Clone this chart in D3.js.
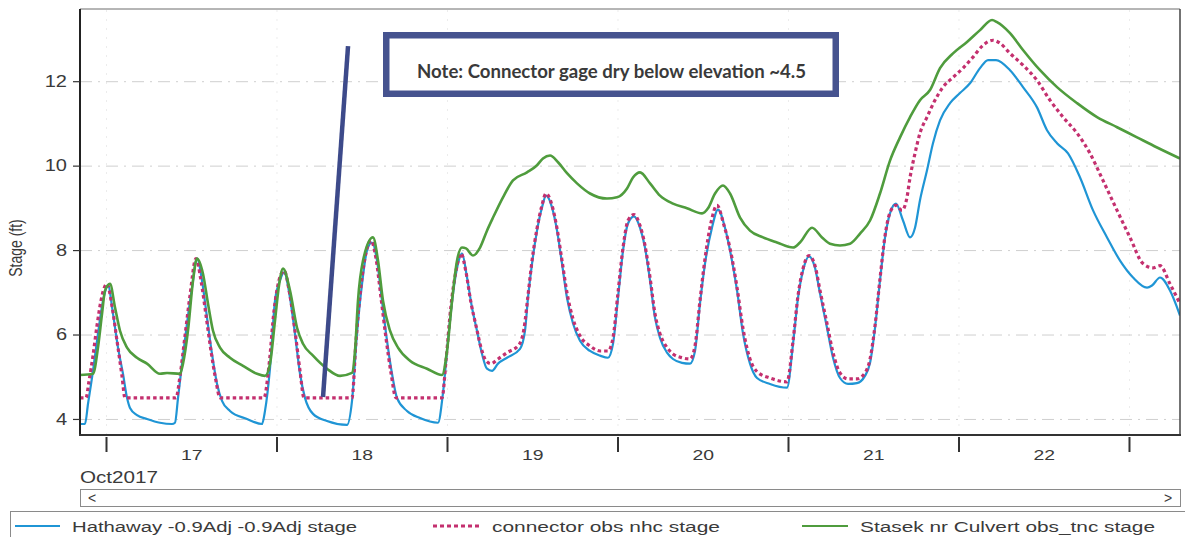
<!DOCTYPE html>
<html>
<head>
<meta charset="utf-8">
<script src="https://cdn.jsdelivr.net/npm/d3@7"></script>
<style>
  html, body { margin: 0; padding: 0; background: #fff; }
  svg { display: block; }
  text { font-family: "Liberation Sans", Arial, sans-serif; fill: #3a3a3a; }
</style>
</head>
<body>
<svg id="chart" width="1185" height="537"></svg>
<script>
// Stage readings, [hours after 17 Oct 2017 00:00, stage in ft]
const hathaway = [
  [-3.66,3.88],[-2.96,3.88],[-2.53,4.36],[-1.83,5.14],[-1.13,6.02],[-0.42,6.80],[0.28,7.16],[0.99,6.49],
  [1.69,5.69],[2.39,5.07],[2.96,4.50],[3.38,4.26],[4.36,4.09],[5.77,4.00],[7.60,3.91],[9.29,3.88],
  [9.71,3.91],[10.14,4.50],[10.70,5.31],[11.40,6.26],[12.11,7.11],[12.81,7.80],[13.51,7.28],[14.22,6.40],
  [14.92,5.54],[15.63,4.83],[16.33,4.43],[17.45,4.19],[19.85,4.00],[21.96,3.88],[22.38,4.19],[23.09,5.21],
  [23.79,6.80],[24.49,7.28],[25.06,7.47],[25.90,6.87],[26.60,6.02],[27.31,5.07],[28.01,4.50],[29.14,4.12],
  [31.11,3.95],[33.92,3.86],[34.63,4.43],[35.33,6.02],[36.04,7.20],[36.74,7.99],[37.44,8.18],[38.15,7.75],
  [38.85,6.80],[39.56,5.85],[40.26,5.07],[40.96,4.50],[42.37,4.19],[44.20,4.02],[46.73,3.91],[47.44,4.62],
  [48.14,5.85],[48.85,6.97],[49.55,7.68],[50.11,7.92],[50.82,7.35],[51.52,6.64],[52.22,6.09],[52.93,5.54],
  [53.63,5.19],[54.34,5.14],[55.18,5.31],[56.45,5.45],[58.28,5.66],[58.98,6.09],[59.40,6.87],[59.97,7.68],
  [60.67,8.46],[61.37,9.01],[61.94,9.29],[62.78,9.01],[63.49,8.46],[64.19,7.68],[64.89,6.87],[65.74,6.26],
  [66.72,5.85],[68.13,5.61],[69.54,5.50],[70.66,5.45],[71.37,5.78],[72.07,6.87],[72.78,7.99],[73.48,8.63],
  [74.32,8.80],[75.17,8.53],[75.87,8.06],[76.58,7.28],[77.28,6.40],[77.98,5.92],[78.97,5.57],[79.81,5.42],
  [81.08,5.33],[82.21,5.31],[82.91,5.61],[83.61,6.73],[84.32,7.68],[85.30,8.53],[86.15,8.96],[87.13,8.53],
  [87.84,7.99],[88.83,7.04],[89.67,6.02],[90.65,5.31],[91.64,4.97],[93.47,4.83],[95.86,4.74],[96.71,5.78],
  [97.41,6.87],[98.11,7.51],[98.96,7.85],[99.80,7.58],[100.51,6.97],[101.49,6.16],[102.34,5.45],[103.32,4.97],
  [104.45,4.83],[105.71,4.85],[106.84,5.02],[107.55,5.33],[108.25,6.16],[108.95,7.28],[109.66,8.30],[110.36,8.87],
  [111.20,9.10],[112.19,8.70],[113.18,8.30],[113.88,8.53],[114.58,9.18],[115.57,9.89],[116.41,10.53],[117.40,11.07],
  [118.81,11.48],[120.21,11.72],[121.62,11.95],[123.03,12.31],[124.16,12.50],[125.28,12.50],[127.25,12.26],[129.08,11.86],
  [131.05,11.38],[132.46,10.84],[133.87,10.53],[135.42,10.29],[137.11,9.72],[138.94,8.94],[140.91,8.30],[142.74,7.75],
  [144.57,7.35],[146.54,7.11],[147.24,7.16],[148.37,7.35],[149.77,7.04],[151.18,6.45]
];

const connector = [
  [-3.66,4.50],[-2.82,4.50],[-2.39,4.90],[-1.83,5.50],[-1.27,6.21],[-0.56,6.92],[0.14,7.20],[0.84,6.68],
  [1.55,5.85],[2.25,5.02],[2.67,4.50],[9.85,4.50],[10.42,5.02],[11.12,5.97],[11.82,6.92],[12.67,7.80],
  [13.37,7.28],[14.08,6.45],[14.78,5.61],[15.48,4.90],[16.05,4.50],[22.24,4.50],[22.94,5.26],[23.65,6.56],
  [24.35,7.28],[25.06,7.51],[25.90,6.92],[26.60,6.09],[27.31,5.14],[27.87,4.50],[34.63,4.50],[35.19,5.85],
  [35.90,7.16],[36.60,7.94],[37.30,8.23],[38.01,7.80],[38.71,6.87],[39.41,5.92],[40.12,5.09],[40.82,4.50],
  [47.30,4.50],[47.86,5.38],[48.56,6.68],[49.27,7.51],[49.97,7.92],[50.68,7.47],[51.38,6.75],[52.08,6.21],
  [52.79,5.69],[53.49,5.38],[54.19,5.31],[55.18,5.42],[56.45,5.57],[58.14,5.76],[58.84,6.14],[59.40,6.92],
  [59.97,7.75],[60.67,8.51],[61.37,9.06],[61.94,9.34],[62.78,9.06],[63.49,8.51],[64.19,7.75],[64.89,6.99],
  [65.74,6.37],[66.72,5.97],[68.13,5.73],[69.54,5.61],[70.66,5.61],[71.37,5.92],[72.07,6.99],[72.78,8.06],
  [73.48,8.70],[74.32,8.84],[75.17,8.58],[75.87,8.11],[76.58,7.35],[77.28,6.49],[77.98,6.02],[78.97,5.69],
  [79.81,5.54],[81.08,5.45],[82.21,5.42],[82.91,5.73],[83.61,6.80],[84.32,7.80],[85.16,8.65],[86.01,9.06],
  [87.00,8.58],[87.84,8.04],[88.83,7.11],[89.67,6.14],[90.65,5.42],[91.64,5.12],[93.47,4.97],[95.86,4.88],
  [96.71,5.85],[97.41,6.92],[98.11,7.56],[98.96,7.87],[99.80,7.63],[100.51,7.04],[101.49,6.26],[102.34,5.57],
  [103.32,5.09],[104.45,4.95],[105.71,4.95],[106.84,5.09],[107.55,5.42],[108.25,6.21],[108.95,7.32],[109.66,8.34],
  [110.36,8.89],[111.20,9.06],[112.05,8.94],[112.75,9.25],[113.18,9.72],[113.88,10.29],[114.58,10.77],[115.57,11.15],
  [116.69,11.55],[117.82,11.86],[119.23,12.09],[120.64,12.31],[122.04,12.57],[123.45,12.85],[124.86,12.97],[125.84,12.90],
  [127.25,12.66],[129.08,12.38],[131.05,12.02],[132.88,11.55],[134.71,11.15],[136.69,10.77],[138.51,10.29],[140.34,9.65],
  [142.32,8.94],[144.14,8.30],[145.97,7.68],[147.38,7.58],[148.37,7.63],[149.77,7.20],[151.18,6.73]
];

const stasek = [
  [-3.66,5.04],[-1.83,5.07],[-1.13,5.69],[-0.56,6.49],[-0.14,7.04],[0.56,7.20],[1.27,6.64],[1.97,6.09],
  [2.96,5.69],[4.36,5.45],[5.77,5.31],[7.60,5.07],[8.59,5.09],[10.42,5.07],[10.84,5.31],[11.54,6.09],
  [12.25,7.28],[12.81,7.80],[13.65,7.44],[14.36,6.73],[15.06,6.09],[16.05,5.69],[17.45,5.45],[19.29,5.26],
  [21.26,5.07],[22.38,5.02],[23.09,5.31],[23.79,6.33],[24.35,7.16],[24.92,7.56],[25.90,7.04],[26.89,6.16],
  [27.73,5.78],[29.14,5.50],[31.11,5.19],[32.94,5.02],[34.63,5.09],[35.05,5.61],[35.47,6.80],[36.18,7.75],
  [37.58,8.30],[38.29,7.75],[38.99,6.80],[39.98,6.09],[41.10,5.69],[42.79,5.38],[45.19,5.19],[47.30,5.04],
  [48.00,5.61],[48.71,6.80],[49.41,7.75],[50.11,8.06],[50.68,8.04],[51.66,7.87],[52.65,8.06],[53.63,8.46],
  [54.48,8.77],[55.88,9.25],[57.29,9.65],[59.26,9.84],[60.67,10.01],[61.51,10.17],[62.50,10.24],[63.63,10.08],
  [64.89,9.82],[66.30,9.58],[68.13,9.34],[70.52,9.22],[71.93,9.25],[73.34,9.46],[74.18,9.72],[75.17,9.84],
  [76.58,9.58],[77.98,9.29],[79.81,9.10],[81.78,8.99],[83.90,8.87],[84.74,8.99],[85.73,9.34],[86.85,9.53],
  [87.84,9.34],[89.25,8.77],[90.65,8.46],[92.48,8.30],[94.45,8.18],[96.71,8.06],[97.69,8.18],[99.38,8.53],
  [100.79,8.30],[101.91,8.15],[103.32,8.11],[104.73,8.15],[106.14,8.39],[107.55,8.70],[108.95,9.34],[110.36,10.12],
  [111.77,10.67],[113.18,11.15],[114.58,11.55],[115.99,11.79],[117.40,12.31],[119.23,12.66],[121.20,12.93],[123.03,13.21],
  [124.72,13.45],[125.42,13.40],[127.25,13.14],[129.08,12.74],[131.48,12.26],[133.87,11.86],[136.69,11.48],[139.50,11.15],
  [142.32,10.91],[145.13,10.67],[147.95,10.43],[151.18,10.17]
];

const seriesNames = [
  "Hathaway -0.9Adj -0.9Adj stage",
  "connector obs nhc stage",
  "Stasek nr Culvert obs_tnc stage"
];
const stageTicks = [4, 6, 8, 10, 12];
const dayBoundaries = [17, 18, 19, 20, 21, 22, 23];
const dayLabels = [17, 18, 19, 20, 21, 22];
const monthLabel = "Oct2017";
const noteText = "Note: Connector gage dry below elevation ~4.5";
// Pointer from the note down to the dry threshold, [hours, stage]
const notePointer = [[34.07, 12.83], [30.55, 4.52]];
const viewHours = [-3.66, 151.18];
const stageDomain = [3.62, 13.71];

// ---- layout ----
const SX = 1.25;                       // horizontal stretch of the lettering
const plot = { left: 80, right: 1180, top: 9, bottom: 435 };
const base = Date.UTC(2017, 9, 17);
const toDate = h => new Date(base + h * 3600e3);
const dayDate = (d, hr = 0) => new Date(Date.UTC(2017, 9, d, hr));

const svg = d3.select("#chart");
const x = d3.scaleUtc().domain(viewHours.map(toDate)).range([plot.left, plot.right]);
const y = d3.scaleLinear().domain(stageDomain).range([plot.bottom, plot.top]);

svg.append("rect").attr("width", 1185).attr("height", 537).attr("fill", "#fff");

// vertical day grid (faint)
svg.append("g")
  .attr("transform", `translate(0,${plot.bottom})`)
  .call(d3.axisBottom(x).tickValues(dayBoundaries.map(d => dayDate(d)))
        .tickSize(-(plot.bottom - plot.top)).tickFormat(""))
  .call(g => g.select(".domain").remove())
  .call(g => g.selectAll("line").attr("stroke", "#ececec").attr("stroke-dasharray", "2,7"));

// horizontal stage grid (dash-dot)
svg.append("g")
  .attr("transform", `translate(${plot.left},0)`)
  .call(d3.axisLeft(y).tickValues(stageTicks).tickSize(-(plot.right - plot.left)).tickFormat(""))
  .call(g => g.select(".domain").remove())
  .call(g => g.selectAll("line").attr("stroke", "#cfcfcf").attr("stroke-width", 1)
                .attr("stroke-dasharray", "12,6,2,6"));

// series
const clipId = "plotClip";
svg.append("clipPath").attr("id", clipId).append("rect")
  .attr("x", plot.left).attr("y", plot.top)
  .attr("width", plot.right - plot.left).attr("height", plot.bottom - plot.top);

const line = d3.line()
  .x(d => x(toDate(d[0])))
  .y(d => y(d[1]))
  .curve(d3.curveMonotoneX);

const layers = svg.append("g").attr("clip-path", `url(#${clipId})`);
layers.append("path").datum(hathaway).attr("d", line)
  .attr("fill", "none").attr("stroke", "#1f95d5").attr("stroke-width", 2.2).attr("stroke-linejoin", "round");
layers.append("path").datum(connector).attr("d", line)
  .attr("fill", "none").attr("stroke", "#c4306f").attr("stroke-width", 3.2).attr("stroke-dasharray", "3.5,3");
layers.append("path").datum(stasek).attr("d", line)
  .attr("fill", "none").attr("stroke", "#4f9c3d").attr("stroke-width", 2.6).attr("stroke-linejoin", "round");

// frame
const frame = svg.append("g");
frame.append("line").attr("x1", plot.left).attr("x2", plot.right).attr("y1", plot.top).attr("y2", plot.top)
  .attr("stroke", "#6d6d6d").attr("stroke-width", 1);
frame.append("line").attr("x1", plot.right).attr("x2", plot.right).attr("y1", plot.top).attr("y2", plot.bottom)
  .attr("stroke", "#444").attr("stroke-width", 1.5);
frame.append("line").attr("x1", plot.left).attr("x2", plot.left).attr("y1", plot.top).attr("y2", plot.bottom)
  .attr("stroke", "#222").attr("stroke-width", 2);
frame.append("line").attr("x1", plot.left - 1).attr("x2", plot.right + 1).attr("y1", plot.bottom).attr("y2", plot.bottom)
  .attr("stroke", "#333").attr("stroke-width", 2);

// stage axis
svg.append("g")
  .attr("transform", `translate(${plot.left},0)`)
  .call(d3.axisLeft(y).tickValues(stageTicks).tickSize(7).tickFormat(d3.format("d")))
  .call(g => g.select(".domain").remove())
  .call(g => g.selectAll("line").attr("stroke", "#333").attr("stroke-width", 1.2))
  .call(g => g.selectAll("text")
      .attr("x", -13 / SX).attr("transform", `scale(${SX},1)`)
      .style("font-size", "16px").attr("fill", "#333"));

// day boundary ticks
svg.append("g")
  .attr("transform", `translate(0,${plot.bottom + 2})`)
  .call(d3.axisBottom(x).tickValues(dayBoundaries.map(d => dayDate(d))).tickSize(15).tickFormat(""))
  .call(g => g.select(".domain").remove())
  .call(g => g.selectAll("line").attr("stroke", "#333").attr("stroke-width", 2));

// day labels centred on each day
svg.append("g")
  .attr("transform", `translate(0,${plot.bottom})`)
  .call(d3.axisBottom(x).tickValues(dayLabels.map(d => dayDate(d, 12))).tickSize(0).tickPadding(14)
        .tickFormat(d3.utcFormat("%-d")))
  .call(g => g.select(".domain").remove())
  .call(g => g.selectAll("text").attr("transform", `scale(${SX},1)`)
      .style("font-size", "15.5px").attr("fill", "#333"));

// y title
svg.append("text")
  .attr("transform", `translate(22,248) rotate(-90) scale(1,${SX})`)
  .attr("text-anchor", "middle")
  .style("font-size", "14px").attr("fill", "#555")
  .text("Stage (ft)");

// month label
svg.append("text")
  .attr("x", 80).attr("y", 483)
  .attr("textLength", 78).attr("lengthAdjust", "spacingAndGlyphs")
  .style("font-size", "16px").attr("fill", "#555")
  .text(monthLabel);

// scroll bar
const sb = svg.append("g");
sb.append("rect").attr("x", 80.5).attr("y", 489.5).attr("width", 1100).attr("height", 17)
  .attr("fill", "#fff").attr("stroke", "#8a8a8a");
sb.append("text").attr("x", 88).attr("y", 503).style("font-size", "14px").attr("fill", "#555").text("<");
sb.append("text").attr("x", 1164).attr("y", 503).style("font-size", "14px").attr("fill", "#555").text(">");

// legend
const lg = svg.append("g");
lg.append("rect").attr("x", 10.5).attr("y", 511.5).attr("width", 1190).attr("height", 40)
  .attr("fill", "#fff").attr("stroke", "#8a8a8a");
const legendItems = [
  { name: seriesNames[0], x0: 15, x1: 60, tx: 72, w: 285, color: "#1f95d5", width: 1.8, dash: null },
  { name: seriesNames[1], x0: 433, x1: 480, tx: 492, w: 228, color: "#c4306f", width: 3, dash: "4,3" },
  { name: seriesNames[2], x0: 802, x1: 848, tx: 860, w: 295, color: "#4f9c3d", width: 1.8, dash: null }
];
legendItems.forEach(it => {
  lg.append("line").attr("x1", it.x0).attr("x2", it.x1).attr("y1", 526).attr("y2", 526)
    .attr("stroke", it.color).attr("stroke-width", it.width)
    .attr("stroke-dasharray", it.dash);
  lg.append("text").attr("x", it.tx).attr("y", 531.5)
    .attr("textLength", it.w).attr("lengthAdjust", "spacingAndGlyphs")
    .style("font-size", "15.5px").attr("fill", "#3a3a3a")
    .text(it.name);
});

// note box and pointer
const note = svg.append("g");
note.append("rect").attr("x", 386.25).attr("y", 35.25).attr("width", 449.5).attr("height", 58.5)
  .attr("fill", "#fff").attr("stroke", "#46538f").attr("stroke-width", 6.5);
note.append("text").attr("x", 611.5).attr("y", 77.5).attr("text-anchor", "middle")
  .attr("textLength", 389).attr("lengthAdjust", "spacingAndGlyphs")
  .style("font-family", "Lato, 'Open Sans', sans-serif").style("font-weight", "bold")
  .style("font-size", "18px").attr("fill", "#2b2b2b")
  .text(noteText);
svg.append("line")
  .attr("x1", x(toDate(notePointer[0][0]))).attr("y1", y(notePointer[0][1]))
  .attr("x2", x(toDate(notePointer[1][0]))).attr("y2", y(notePointer[1][1]))
  .attr("stroke", "#3d4a8a").attr("stroke-width", 4.5);
</script>
</body>
</html>
